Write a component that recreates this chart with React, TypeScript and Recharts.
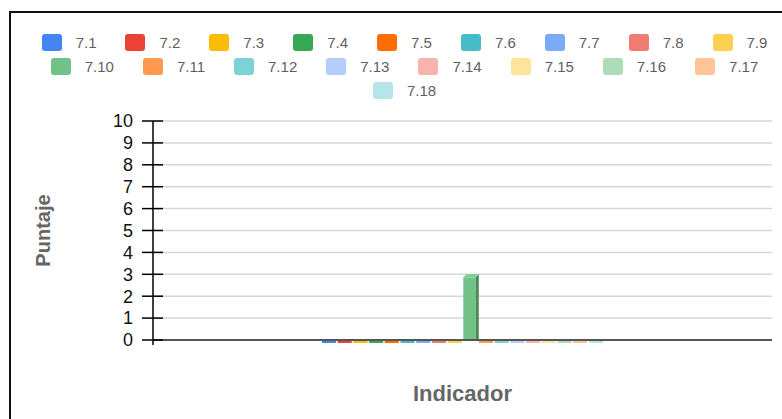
import React from "react";
import {
  BarChart,
  Bar,
  XAxis,
  YAxis,
  CartesianGrid,
  Legend,
  ReferenceLine,
} from "recharts";

const indicators = [
  "7.1", "7.2", "7.3", "7.4", "7.5", "7.6", "7.7", "7.8", "7.9",
  "7.10", "7.11", "7.12", "7.13", "7.14", "7.15", "7.16", "7.17", "7.18",
];
const scores = [0, 0, 0, 0, 0, 0, 0, 0, 0, 3, 0, 0, 0, 0, 0, 0, 0, 0];
const colors = [
  "#4285f4", "#ea4335", "#fbbc04", "#34a853", "#ff6d01", "#46bdc6",
  "#7baaf7", "#f07b72", "#fcd04f", "#71c287", "#ff994d", "#7ed1d7",
  "#b3cefb", "#f7b4ae", "#fde49b", "#aedcba", "#ffc599", "#b5e5e8",
];
const yTicks = [0, 1, 2, 3, 4, 5, 6, 7, 8, 9, 10];

const row: Record<string, string | number> = { indicador: "" };
indicators.forEach((k, i) => {
  row[k] = scores[i];
});
const data = [row];

const FONT = "Arial, 'Liberation Sans', sans-serif";

function shade(hex: string, f: number) {
  const n = parseInt(hex.slice(1), 16);
  const c = (v: number) => Math.min(255, Math.round(v * f));
  return `rgb(${c((n >> 16) & 255)},${c((n >> 8) & 255)},${c(n & 255)})`;
}

// fake 3d bar: front face, darker right side, lighter top
function BarShape(props: any) {
  const { x, y, width, height, fill } = props;
  if (!height || height < 1) {
    return <rect x={x} y={y} width={width} height={3} fill={fill} />;
  }
  const d = 3;
  const fw = width - 1.5;
  return (
    <g>
      <rect x={x} y={y + d} width={fw} height={height - d} fill={fill} />
      <polygon
        points={`${x + fw},${y + d} ${x + fw + d},${y} ${x + fw + d},${y + height} ${x + fw},${y + height}`}
        fill={shade(fill, 0.7)}
      />
      <polygon
        points={`${x},${y + d} ${x + d},${y} ${x + fw + d},${y} ${x + fw},${y + d}`}
        fill={shade(fill, 1.08)}
      />
    </g>
  );
}

function YTick(props: any) {
  const { x, y, payload } = props;
  return (
    <g>
      <line x1={x - 11} x2={x + 10} y1={y} y2={y} stroke="#000" strokeWidth={1.5} />
      {payload.value === 0 && (
        <line x1={x} x2={x} y1={y} y2={y + 5} stroke="#000" strokeWidth={1.5} />
      )}
      <text
        x={x - 20}
        y={y}
        dy="0.35em"
        textAnchor="end"
        fill="#111"
        fontSize={18}
        fontFamily={FONT}
      >
        {payload.value}
      </text>
    </g>
  );
}

function LegendContent() {
  return (
    <div
      style={{
        display: "flex",
        flexWrap: "wrap",
        justifyContent: "center",
        columnGap: 29,
        rowGap: 6,
        padding: "20px 8px 0 8px",
        fontFamily: FONT,
      }}
    >
      {indicators.map((k, i) => (
        <div key={k} style={{ display: "flex", alignItems: "center", height: 18 }}>
          <span
            style={{
              display: "inline-block",
              width: 20,
              height: 17,
              borderRadius: 3,
              background: colors[i],
              marginRight: 14,
            }}
          />
          <span style={{ fontSize: 15, color: "#5f5f5f" }}>{k}</span>
        </div>
      ))}
    </div>
  );
}

export default function App() {
  return (
    <div
      style={{
        position: "fixed",
        inset: 0,
        overflow: "hidden",
        background: "#fff",
      }}
    >
      <div
        style={{
          position: "absolute",
          left: 9,
          top: 11,
          width: 800,
          height: 420,
          borderTop: "2px solid #111",
          borderLeft: "2px solid #111",
        }}
      >
        <BarChart
          width={787}
          height={406}
          data={data}
          margin={{ top: 22, right: 26, left: 0, bottom: 0 }}
          barSize={14}
          barGap={1.7}
        >
          <Legend
            verticalAlign="top"
            align="center"
            content={<LegendContent />}
            wrapperStyle={{ top: 0, left: 0, width: 787 }}
          />
          <CartesianGrid vertical={false} stroke="#d6d6d6" strokeWidth={1.5} />
          <XAxis
            dataKey="indicador"
            tick={false}
            tickLine={false}
            axisLine={false}
            height={79}
            label={{
              content: (p: any) => {
                const vb = p.viewBox;
                return (
                  <text
                    x={vb.x + vb.width / 2}
                    y={vb.y + 53}
                    dy="0.35em"
                    textAnchor="middle"
                    fill="#666"
                    fontSize={22}
                    fontWeight="bold"
                    fontFamily={FONT}
                  >
                    Indicador
                  </text>
                );
              },
            }}
          />
          <YAxis
            domain={[0, 10]}
            ticks={yTicks}
            interval={0}
            width={142}
            tickSize={0}
            tickMargin={0}
            tickLine={false}
            axisLine={{ stroke: "#000", strokeWidth: 1.5 }}
            tick={<YTick />}
            label={{
              content: (p: any) => {
                const vb = p.viewBox;
                const cy = vb.y + vb.height / 2;
                return (
                  <text
                    x={32}
                    y={cy}
                    transform={`rotate(-90, 32, ${cy})`}
                    dy="0.35em"
                    textAnchor="middle"
                    fill="#666"
                    fontSize={20}
                    fontWeight="bold"
                    fontFamily={FONT}
                  >
                    Puntaje
                  </text>
                );
              },
            }}
          />
          <ReferenceLine y={0} stroke="#555" strokeWidth={2} />
          {indicators.map((k, i) => (
            <Bar
              key={k}
              dataKey={k}
              fill={colors[i]}
              isAnimationActive={false}
              shape={<BarShape />}
            />
          ))}
        </BarChart>
      </div>
    </div>
  );
}
